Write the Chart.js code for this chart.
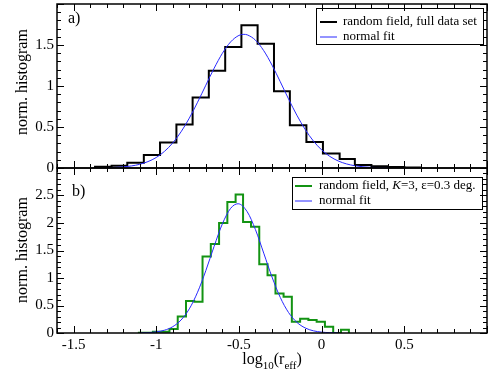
<!DOCTYPE html>
<html><head><meta charset="utf-8">
<script src="https://cdn.jsdelivr.net/npm/chart.js@4/dist/chart.umd.min.js"></script>
<style>
html,body{margin:0;padding:0;background:#fff;width:491px;height:379px;overflow:hidden;}
.wrap{position:absolute;left:0;width:491px;}
#wrapA{top:0;height:185px;}
#wrapB{top:160px;height:219px;}
canvas{display:block;}
</style></head><body>
<div class="wrap" id="wrapA"><canvas id="cA" width="491" height="185"></canvas></div>
<div class="wrap" id="wrapB"><canvas id="cB" width="491" height="219"></canvas></div>
<script>
// ---------- data ----------
const topEdges = [-1.37, -1.27, -1.175, -1.075, -0.977, -0.878, -0.78, -0.682, -0.583, -0.485, -0.387, -0.288, -0.192, -0.092, 0.008, 0.109, 0.201, 0.301, 0.401, 0.5, 0.596];
const topHist  = [0.016, 0.028, 0.064, 0.16, 0.31, 0.53, 0.86, 1.185, 1.475, 1.74, 1.515, 0.935, 0.52, 0.318, 0.178, 0.109, 0.037, 0.022, 0.012, 0.005];
const topFitX = [-1.3, -1.25, -1.2, -1.15, -1.1, -1.05, -1.0, -0.95, -0.9, -0.85, -0.8, -0.75, -0.7, -0.65, -0.6, -0.55, -0.5, -0.47, -0.45, -0.4, -0.35, -0.3, -0.25, -0.2, -0.15, -0.1, -0.05, 0, 0.05, 0.1, 0.15, 0.2, 0.25, 0.3, 0.35, 0.4];
const topFitY = [0.003, 0.007, 0.013, 0.025, 0.045, 0.078, 0.128, 0.203, 0.306, 0.441, 0.608, 0.802, 1.010, 1.216, 1.399, 1.538, 1.617, 1.63, 1.624, 1.559, 1.431, 1.255, 1.052, 0.842, 0.645, 0.472, 0.330, 0.221, 0.141, 0.086, 0.050, 0.028, 0.015, 0.008, 0.004, 0.002];

const botEdges = [-1.105, -1.07, -1.02, -0.97, -0.92, -0.87, -0.82, -0.77, -0.72, -0.67, -0.62, -0.57, -0.52, -0.475, -0.427, -0.377, -0.327, -0.279, -0.23, -0.18, -0.13, -0.08, -0.03, 0.02, 0.07, 0.117, 0.165];
const botHist  = [0.006, 0.006, 0.024, 0.024, 0.075, 0.30, 0.58, 0.57, 1.39, 1.62, 2.0, 2.38, 2.52, 2.02, 1.93, 1.25, 1.05, 0.72, 0.66, 0.205, 0.26, 0.235, 0.205, 0.115, 0, 0.06];
const botFitX = [-1.1, -1.05, -1.0, -0.95, -0.9, -0.85, -0.8, -0.75, -0.7, -0.65, -0.6, -0.55, -0.505, -0.45, -0.4, -0.35, -0.3, -0.25, -0.2, -0.15, -0.1, -0.05, 0, 0.05, 0.1];
const botFitY = [0.002, 0.007, 0.020, 0.051, 0.115, 0.236, 0.439, 0.742, 1.135, 1.576, 1.985, 2.267, 2.35, 2.205, 1.879, 1.452, 1.018, 0.647, 0.373, 0.195, 0.093, 0.040, 0.016, 0.006, 0.002];

const xTicks = [-1.5, -1, -0.5, 0, 0.5];
const xTickLabels = ['-1.5', '-1', '-0.5', '0', '0.5'];
const topYTicks = [0, 0.5, 1, 1.5];
const topYTickLabels = ['0', '0.5', '1', '1.5'];
const botYTicks = [0, 0.5, 1, 1.5, 2, 2.5];
const botYTickLabels = ['0', '0.5', '1', '1.5', '2', '2.5'];

const topLegend = ['random field, full data set', 'normal fit'];
const botLegend = ['random field, K=3, ε=0.3 deg.', 'normal fit'];

// ---------- helpers ----------
const SERIF = "'Liberation Serif', 'DejaVu Serif', serif";
Chart.defaults.font.family = SERIF;
Chart.defaults.color = '#000';

function stepPoints(edges, vals) {
  const pts = [{x: edges[0], y: 0}];
  vals.forEach((v, i) => pts.push({x: edges[i], y: v}));
  pts.push({x: edges[edges.length - 1], y: 0});
  return pts;
}
function zipPts(xs, ys) { return xs.map((x, i) => ({x: x, y: ys[i]})); }

function drawRich(ctx, segs, x, y, size) {
  let cx = x;
  segs.forEach(s => {
    ctx.font = (s.italic ? 'italic ' : '') + size + 'px ' + SERIF;
    ctx.fillText(s.t, cx, y);
    cx += ctx.measureText(s.t).width;
  });
}

function decorPlugin(cfg) {
  return {
    id: 'decor',
    afterDatasetsDraw(chart) {
      const ctx = chart.ctx, a = chart.chartArea, xs = chart.scales.x, ys = chart.scales.y;
      const oy = cfg.offsetY;
      ctx.save();
      // frame
      ctx.strokeStyle = '#000';
      ctx.lineWidth = 1.5;
      ctx.strokeRect(a.left, a.top, a.right - a.left, a.bottom - a.top);
      // ticks
      ctx.lineWidth = 1;
      ctx.beginPath();
      const xMinor = 0.1, xMajor = 0.5;
      for (let k = Math.ceil(xs.min / xMinor - 1e-6); k * xMinor <= xs.max + 1e-9; k++) {
        const v = k * xMinor;
        const major = Math.abs(v / xMajor - Math.round(v / xMajor)) < 1e-6;
        const L = major ? 7 : 4;
        const px = Math.round(xs.getPixelForValue(v)) + 0.5;
        ctx.moveTo(px, a.bottom); ctx.lineTo(px, a.bottom - L);
        ctx.moveTo(px, a.top); ctx.lineTo(px, a.top + L);
      }
      const yMinor = 0.1, yMajor = 0.5;
      for (let k = Math.ceil(ys.min / yMinor - 1e-6); k * yMinor <= ys.max + 1e-9; k++) {
        const v = k * yMinor;
        const major = Math.abs(v / yMajor - Math.round(v / yMajor)) < 1e-6;
        const L = major ? 7 : 4;
        const py = Math.round(ys.getPixelForValue(v)) + 0.5;
        ctx.moveTo(a.left, py); ctx.lineTo(a.left + L, py);
        ctx.moveTo(a.right, py); ctx.lineTo(a.right - L, py);
      }
      ctx.stroke();

      // y title
      ctx.fillStyle = '#000';
      ctx.save();
      ctx.translate(cfg.yTitleX, cfg.yTitleY - oy);
      ctx.rotate(-Math.PI / 2);
      ctx.font = '16px ' + SERIF;
      ctx.textAlign = 'center';
      ctx.textBaseline = 'middle';
      ctx.fillText('norm. histogram', 0, 0);
      ctx.restore();

      // panel label
      ctx.font = '16px ' + SERIF;
      ctx.textBaseline = 'middle';
      ctx.textAlign = 'left';
      ctx.fillText(cfg.panel, cfg.panelX, cfg.panelY - oy);

      // legend
      const L = cfg.legend;
      ctx.lineWidth = 1;
      ctx.strokeStyle = '#000';
      ctx.strokeRect(L.x0 + 0.5, L.y0 - oy + 0.5, L.x1 - L.x0, L.y1 - L.y0);
      L.rows.forEach(r => {
        ctx.beginPath();
        ctx.strokeStyle = r.color;
        ctx.lineWidth = r.lw;
        ctx.moveTo(L.lx0, r.y - oy); ctx.lineTo(L.lx1, r.y - oy);
        ctx.stroke();
        ctx.fillStyle = '#000';
        ctx.textBaseline = 'middle';
        drawRich(ctx, r.segs, L.tx, r.y - oy, 13);
      });

      // x title
      if (cfg.xTitle) {
        const parts = [
          {t: 'log', s: 16, dy: 0},
          {t: '10', s: 11, dy: 5},
          {t: '(r', s: 16, dy: 0},
          {t: 'eff', s: 11, dy: 5},
          {t: ')', s: 16, dy: 0}
        ];
        let w = 0;
        parts.forEach(p => { ctx.font = p.s + 'px ' + SERIF; p.w = ctx.measureText(p.t).width; w += p.w; });
        let cx = (a.left + a.right) / 2 - w / 2;
        ctx.textBaseline = 'alphabetic';
        ctx.textAlign = 'left';
        parts.forEach(p => {
          ctx.font = p.s + 'px ' + SERIF;
          ctx.fillText(p.t, cx, cfg.xTitleBase - oy + p.dy);
          cx += p.w;
        });
      }
      ctx.restore();
    }
  };
}

function yScale(min, max, ticks, labels) {
  return {
    type: 'linear', min: min, max: max,
    grid: {display: false, drawTicks: false}, border: {display: false},
    ticks: {font: {size: 15, family: SERIF}, color: '#000', padding: 3,
      callback: (v) => { const i = ticks.indexOf(v); return i >= 0 ? labels[i] : ''; }},
    afterBuildTicks: s => { s.ticks = ticks.map(v => ({value: v})); },
    afterFit: s => { s.width = 57; s.paddingTop = 0; s.paddingBottom = 0; }
  };
}

// ---------- top chart ----------
new Chart(document.getElementById('cA'), {
  type: 'scatter',
  data: {datasets: [
    {data: zipPts(topFitX, topFitY), showLine: true, pointRadius: 0, borderColor: '#2828ff', borderWidth: 1, cubicInterpolationMode: 'monotone', fill: false},
    {data: stepPoints(topEdges, topHist), showLine: true, pointRadius: 0, borderColor: '#000', borderWidth: 2, stepped: 'before', fill: false}
  ]},
  options: {
    responsive: false, animation: false, devicePixelRatio: 1,
    layout: {padding: {top: 4, right: 4, bottom: 17, left: 0}},
    plugins: {legend: {display: false}, tooltip: {enabled: false}},
    scales: {
      x: {type: 'linear', min: -1.6, max: 1.0, display: false},
      y: yScale(0, 2, topYTicks, topYTickLabels)
    }
  },
  plugins: [decorPlugin({
    offsetY: 0, yTitleX: 23, yTitleY: 82, panel: 'a)', panelX: 68, panelY: 19,
    legend: {x0: 316, y0: 8, x1: 483, y1: 44, lx0: 320, lx1: 337, tx: 343,
      rows: [
        {y: 22, color: '#000', lw: 2, segs: [{t: topLegend[0]}]},
        {y: 37, color: '#2828ff', lw: 1, segs: [{t: topLegend[1]}]}
      ]}
  })]
});

// ---------- bottom chart ----------
new Chart(document.getElementById('cB'), {
  type: 'scatter',
  data: {datasets: [
    {data: zipPts(botFitX, botFitY), showLine: true, pointRadius: 0, borderColor: '#2828ff', borderWidth: 1, cubicInterpolationMode: 'monotone', fill: false},
    {data: stepPoints(botEdges, botHist), showLine: true, pointRadius: 0, borderColor: '#139313', borderWidth: 2, stepped: 'before', fill: false}
  ]},
  options: {
    responsive: false, animation: false, devicePixelRatio: 1,
    layout: {padding: {top: 8, right: 4, bottom: 0, left: 0}},
    plugins: {legend: {display: false}, tooltip: {enabled: false}},
    scales: {
      x: {type: 'linear', min: -1.6, max: 1.0,
        grid: {display: false, drawTicks: false}, border: {display: false},
        ticks: {font: {size: 15, family: SERIF}, color: '#000', padding: 3, maxRotation: 0,
          callback: (v) => { const i = xTicks.indexOf(v); return i >= 0 ? xTickLabels[i] : ''; }},
        afterBuildTicks: s => { s.ticks = xTicks.map(v => ({value: v})); },
        afterFit: s => { s.height = 46; s.paddingLeft = 0; s.paddingRight = 0; }
      },
      y: yScale(0, 3, botYTicks, botYTickLabels)
    }
  },
  plugins: [decorPlugin({
    offsetY: 160, yTitleX: 23, yTitleY: 250, panel: 'b)', panelX: 72, panelY: 192,
    xTitle: true, xTitleBase: 364,
    legend: {x0: 292, y0: 177, x1: 482, y1: 209, lx0: 295, lx1: 312, tx: 319,
      rows: [
        {y: 186, color: '#139313', lw: 2, segs: [{t: 'random field, '}, {t: 'K', italic: true}, {t: '=3, ε=0.3 deg.'}]},
        {y: 201, color: '#2828ff', lw: 1, segs: [{t: botLegend[1]}]}
      ]}
  })]
});
</script>
</body></html>
